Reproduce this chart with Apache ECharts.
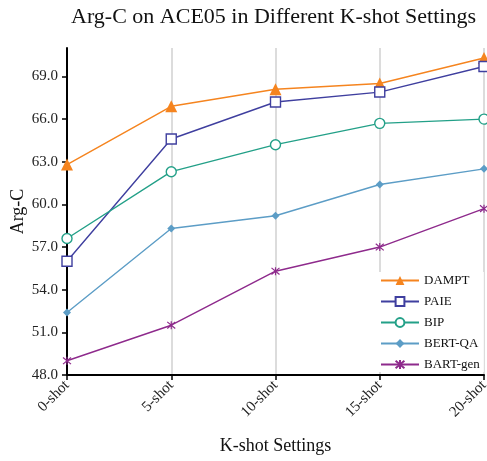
<!DOCTYPE html>
<html><head><meta charset="utf-8">
<script src="https://cdn.jsdelivr.net/npm/echarts@6/dist/echarts.min.js"></script>
<style>html,body{margin:0;padding:0;background:#fff}#c{width:487px;height:461px}</style>
</head><body><div id="c"></div>
<script>
const categories = ['0-shot','5-shot','10-shot','15-shot','20-shot'];
const yTicks = [48,51,54,57,60,63,66,69];
const dampt = [62.8, 66.9, 68.1, 68.5, 70.3];
const paie = [56.0, 64.6, 67.2, 67.9, 69.7];
const bip = [57.6, 62.3, 64.2, 65.7, 66.0];
const bertqa = [52.4, 58.3, 59.2, 61.4, 62.5];
const bartgen = [49.0, 51.5, 55.3, 57.0, 59.7];

const FONT = 'Liberation Serif';
const star = 'path://M0,0 L10,10 M10,0 L0,10 M5,-1 L5,11';
function s(name, data, color, symbol, size, hollow) {
  return {
    name, type: 'line', data, symbol, symbolSize: size, showSymbol: true,
    lineStyle: { color, width: 1.4 },
    itemStyle: hollow ? { color: '#fff', borderColor: color, borderWidth: 1.4 }
      : (symbol === star ? { color, borderColor: color, borderWidth: 1.2 } : { color }),
    emphasis: { disabled: true }
  };
}
const chart = echarts.init(document.getElementById('c'), null, { renderer: 'canvas' });
chart.setOption({
  animation: false,
  backgroundColor: '#fff',
  textStyle: { fontFamily: FONT },
  title: { text: 'Arg-C on ACE05 in Different K-shot Settings', left: 66, top: 1,
    textStyle: { fontFamily: FONT, fontSize: 22, fontWeight: 'normal', color: '#111' } },
  grid: { left: 67, right: 3, top: 48, bottom: 86, containLabel: false, outerBoundsMode: 'none' },
  legend: {
    orient: 'vertical', left: 378, top: 272, itemWidth: 38, itemHeight: 11, itemGap: 8,
    backgroundColor: '#fff', padding: [2, 4, 1, 2],
    textStyle: { fontFamily: FONT, fontSize: 13, color: '#111' },
    data: ['DAMPT','PAIE','BIP','BERT-QA','BART-gen']
  },
  xAxis: {
    type: 'category', data: categories, boundaryGap: false,
    name: 'K-shot Settings', nameLocation: 'middle', nameGap: 62, nameMoveOverlap: false,
    nameTextStyle: { fontFamily: FONT, fontSize: 18, color: '#111' },
    axisLine: { lineStyle: { color: '#000', width: 2 } },
    axisTick: { show: true, inside: false, length: 5, lineStyle: { color: '#000', width: 1.5 } },
    axisLabel: { rotate: 45, fontFamily: FONT, fontSize: 15, color: '#222', margin: 8 },
    splitLine: { show: true, lineStyle: { color: '#dcdcdc', width: 2 } }
  },
  yAxis: {
    type: 'value', min: 48, max: 71, interval: 3,
    name: 'Arg-C', nameLocation: 'middle', nameGap: 40, nameMoveOverlap: false,
    nameTextStyle: { fontFamily: FONT, fontSize: 18, color: '#111' },
    axisLine: { show: true, lineStyle: { color: '#000', width: 2 } },
    axisTick: { show: true, length: 5, lineStyle: { color: '#000', width: 1.5 }, customValues: yTicks },
    axisLabel: { fontFamily: FONT, fontSize: 15, color: '#222', margin: 9, customValues: yTicks,
      formatter: v => v.toFixed(1) },
    splitLine: { show: false }
  },
  series: [
    s('DAMPT', dampt, '#f5841f', 'triangle', 12, false),
    s('PAIE', paie, '#3f3f9f', 'rect', 10, true),
    s('BIP', bip, '#23a088', 'circle', 10, true),
    s('BERT-QA', bertqa, '#5c9dc6', 'diamond', 8, false),
    s('BART-gen', bartgen, '#8e2a8c', star, 8, false)
  ]
});
</script></body></html>
